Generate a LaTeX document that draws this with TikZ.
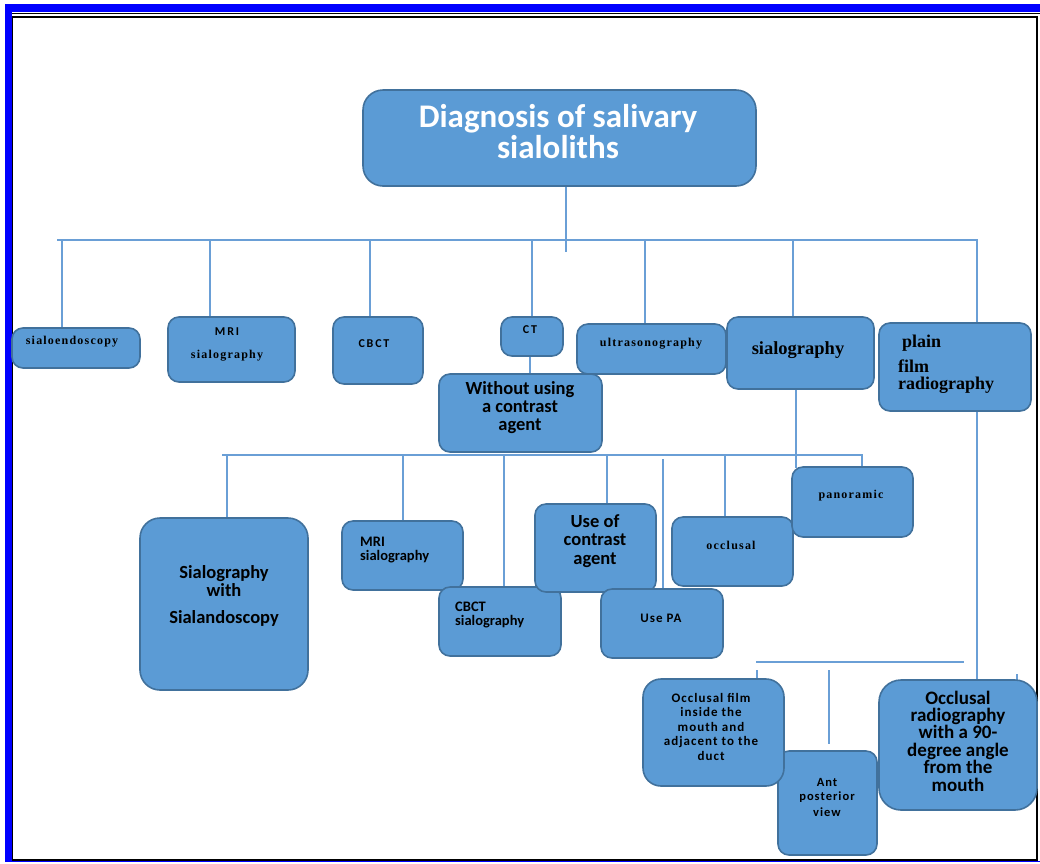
\documentclass[tikz,border=0pt]{standalone}
\usepackage{fontspec}
\setmainfont{Liberation Serif}
\newfontfamily\calib{Carlito}
\newfontfamily\calibsp[LetterSpace=8]{Carlito}
\newfontfamily\calibwide[LetterSpace=15]{Carlito}
\newfontfamily\tmssp[LetterSpace=10]{Liberation Serif}
\definecolor{boxblue}{HTML}{5B9BD5}
\definecolor{boxedge}{HTML}{41719C}
\definecolor{linkblue}{HTML}{6A9FD6}
\definecolor{frameblue}{HTML}{0000FF}
\tikzset{
	box/.style={draw=boxedge, fill=boxblue, line width=1.6pt, rounded corners=11pt, inner sep=0pt},
	link/.style={draw=linkblue, line width=2pt},
	txt/.style={inner sep=0pt, align=center},
}

\begin{document}
\begin{tikzpicture}[x=1pt, y=-1pt]
		%%%%% START %%%%%
		\useasboundingbox (0,0) rectangle (1040,863);
		
		% frame
		\fill[frameblue] (5,4) rectangle (1040,12);
		\fill[frameblue] (5,4) rectangle (12,861);
		\draw[frameblue, line width=1pt] (5,861.5) -- (1040,861.5);
		\draw[line width=1pt] (12,13.5) -- (1040,13.5);
		\draw[line width=1.2pt] (12.5,17) rectangle (1037,860);
		
		% connectors, first level
		\coordinate (bus1w) at (57,240);
		\coordinate (bus1e) at (978,240);
		\draw[link] (bus1w) -- (bus1e);
		\draw[link] (566,186) -- (566,252);
		
		% connectors, second level
		\coordinate (bus2w) at (222,455);
		\coordinate (bus2e) at (863,455);
		\draw[link] (bus2w) -- (bus2e);
		
		% connectors, third level
		\coordinate (bus3w) at (756,662);
		\coordinate (bus3e) at (964,662);
		\draw[link] (bus3w) -- (bus3e);
		\draw[link] (757,670) -- (757,680);
		\draw[link] (829,670) -- (829,744);
		\draw[link] (1017,674) -- (1017,681);
		
		% boxes, top
		\node[box, rounded corners=20pt, minimum width=393pt, minimum height=96pt] (diag) at (559.5,138) {};
		\node[box, minimum width=128pt, minimum height=40pt] (sendo) at (76,348) {};
		\node[box, minimum width=127pt, minimum height=65pt] (mri) at (231.5,349.5) {};
		\node[box, minimum width=90pt, minimum height=67pt] (cbct) at (378,350.5) {};
		\node[box, minimum width=62pt, minimum height=39pt] (ct) at (532,336.5) {};
		\node[box, minimum width=149pt, minimum height=50pt] (ultra) at (651.5,349) {};
		\node[box, minimum width=147pt, minimum height=72pt] (sialo) at (800.5,353) {};
		\node[box, minimum width=152pt, minimum height=88pt] (plain) at (955,367) {};
		\node[box, minimum width=163pt, minimum height=78pt] (nocon) at (520.5,413) {};
		
		\draw[link] (62,240) -- (sendo.north -| 62,0);
		\draw[link] (210,240) -- (mri.north -| 210,0);
		\draw[link] (370,240) -- (cbct.north -| 370,0);
		\draw[link] (532,240) -- (ct.north);
		\draw[link] (645,240) -- (ultra.north -| 645,0);
		\draw[link] (793,240) -- (sialo.north -| 793,0);
		\draw[link] (977,240) -- (plain.north -| 977,0);
		\draw[link] (ct.south -| 530,0) -- (nocon.north -| 530,0);
		\draw[link] (sialo.south -| 796,0) -- (796,468);
		\draw[link] (plain.south -| 977,0) -- (977,681);
		
		% boxes, middle
		\node[box, rounded corners=20pt, minimum width=168pt, minimum height=172pt] (withendo) at (224,604) {};
		\node[box, minimum width=121pt, minimum height=69pt] (mrisialo) at (402.5,555.5) {};
		\node[box, minimum width=122pt, minimum height=69pt] (cbctsialo) at (500,621.5) {};
		\node[box, minimum width=121pt, minimum height=88pt] (contrast) at (595.5,548) {};
		\node[box, minimum width=122pt, minimum height=69pt] (usepa) at (662,623.5) {};
		\node[box, minimum width=121pt, minimum height=69pt] (occl) at (732.5,551.5) {};
		\node[box, minimum width=121pt, minimum height=70pt] (pano) at (852.5,502) {};
		
		\draw[link] (227,455) -- (withendo.north -| 227,0);
		\draw[link] (403,455) -- (mrisialo.north -| 403,0);
		\draw[link] (504,455) -- (cbctsialo.north -| 504,0);
		\draw[link] (607,455) -- (contrast.north -| 607,0);
		\draw[link] (663,459) -- (usepa.north -| 663,0);
		\draw[link] (725,455) -- (occl.north -| 725,0);
		\draw[link] (862,455) -- (pano.north -| 862,0);
		
		% boxes, bottom
		\node[box, minimum width=99pt, minimum height=104pt] (antpost) at (827.5,803) {};
		\node[box, rounded corners=18pt, minimum width=141pt, minimum height=107pt] (film) at (713.5,732.5) {};
		\node[box, rounded corners=22pt, minimum width=158pt, minimum height=130pt] (occlrad) at (958,745) {};
		
		% texts
		\node[txt, text=white, font=\calib\bfseries\fontsize{33}{31}\selectfont] (t-diag) at (558,132) {Diagnosis of salivary\\sialoliths};
		\node[txt, font=\tmssp\bfseries\fontsize{12}{13}\selectfont] (t-sendo) at (72,342) {sialoendoscopy};
		\node[txt, font=\calibwide\bfseries\fontsize{12}{13}\selectfont] (t-mri1) at (227,332) {MRI};
		\node[txt, font=\tmssp\bfseries\fontsize{12}{13}\selectfont] (t-mri2) at (227,356) {sialography};
		\node[txt, font=\calibwide\bfseries\fontsize{12}{13}\selectfont] (t-cbct) at (374,344) {CBCT};
		\node[txt, font=\calibwide\bfseries\fontsize{12}{13}\selectfont] (t-ct) at (530,330) {CT};
		\node[txt, font=\tmssp\bfseries\fontsize{12}{13}\selectfont] (t-ultra) at (651,344) {ultrasonography};
		\node[txt, font=\bfseries\fontsize{18.5}{20}\selectfont] (t-sialo) at (798,350) {sialography};
		\node[txt, align=left, anchor=north west, font=\bfseries\fontsize{18}{16.5}\selectfont] (t-plain) at (898,335) {\hspace{4pt}plain\\[7.5pt]film\\radiography};
		\node[txt, font=\calib\bfseries\fontsize{18.5}{18}\selectfont] (t-nocon) at (520,408) {Without using\\a contrast\\agent};
		
		\node[txt, font=\calib\bfseries\fontsize{18.5}{18}\selectfont] (t-withendo) at (224,596) {Sialography\\with\\[9pt]Sialandoscopy};
		\node[txt, align=left, anchor=west, font=\calib\bfseries\fontsize{14.5}{14}\selectfont] (t-mrisialo) at (360,550) {MRI\\sialography};
		\node[txt, align=left, anchor=west, font=\calib\bfseries\fontsize{14.5}{14}\selectfont] (t-cbctsialo) at (455,615) {CBCT\\sialography};
		\node[txt, font=\calib\bfseries\fontsize{18.5}{18.5}\selectfont] (t-contrast) at (595,541) {Use of\\contrast\\agent};
		\node[txt, font=\calibsp\bfseries\fontsize{13}{14}\selectfont] (t-usepa) at (661,618) {Use PA};
		\node[txt, font=\tmssp\bfseries\fontsize{12}{13}\selectfont] (t-occl) at (731,545) {occlusal};
		\node[txt, font=\tmssp\bfseries\fontsize{12}{13}\selectfont] (t-pano) at (851,496) {panoramic};
		
		\node[txt, font=\calibsp\bfseries\fontsize{13}{14.2}\selectfont] (t-film) at (711,727) {Occlusal film\\inside the\\mouth and\\adjacent to the\\[1pt]duct};
		\node[txt, font=\calibsp\bfseries\fontsize{12.5}{14}\selectfont] (t-ant) at (827,797) {Ant\\posterior\\[2pt]view};
		\node[txt, font=\calib\bfseries\fontsize{19}{17.4}\selectfont] (t-occlrad) at (958,741) {Occlusal\\radiography\\with a 90-\\degree angle\\from the\\mouth};
		
		%%%%% END %%%%%
	\end{tikzpicture}
\end{document}
